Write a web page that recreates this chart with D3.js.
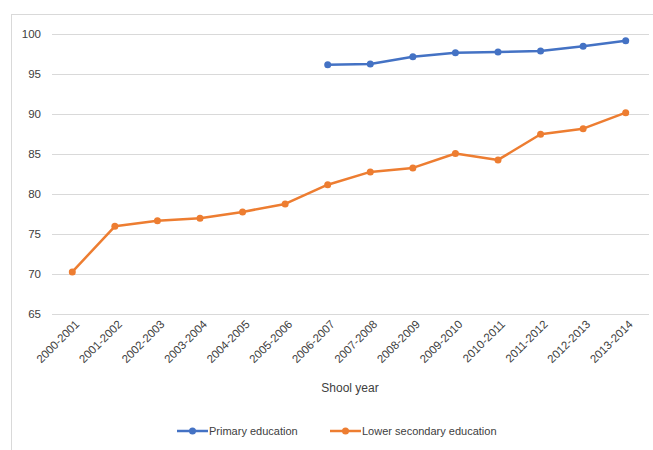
<!DOCTYPE html>
<html><head><meta charset="utf-8">
<script src="https://cdn.jsdelivr.net/npm/d3@7"></script>
<style>
body{margin:0;background:#fff;}
text{font-family:"Liberation Sans",Arial,sans-serif;fill:#404040;}
</style></head>
<body><svg id="c" width="653" height="450"></svg>
<script>
const years = ["2000-2001","2001-2002","2002-2003","2003-2004","2004-2005","2005-2006","2006-2007","2007-2008","2008-2009","2009-2010","2010-2011","2011-2012","2012-2013","2013-2014"];
const primary = [null,null,null,null,null,null,96.1,96.2,97.1,97.6,97.7,97.8,98.4,99.1];
const lowerSecondary = [70.2,75.9,76.6,76.9,77.7,78.7,81.1,82.7,83.2,85.0,84.2,87.4,88.1,90.1];
const yTicks = [65,70,75,80,85,90,95,100];
const seriesNames = ["Primary education","Lower secondary education"];
const colors = ["#4472C4","#ED7D31"];

const svg = d3.select("#c");
svg.append("rect").attr("x",11.5).attr("y",14.5).attr("width",660).attr("height",460)
  .attr("fill","none").attr("stroke","#d9d9d9").attr("stroke-width",1);

const x = d3.scalePoint().domain(years).range([51,647]).padding(0.5);
const y = d3.scaleLinear().domain([65,100]).range([313.5,33.5]);

const g = svg.append("g");
g.selectAll("line.grid").data(yTicks).enter().append("line")
  .attr("x1",52).attr("x2",649)
  .attr("y1",d=>Math.round(y(d))+0.5).attr("y2",d=>Math.round(y(d))+0.5)
  .attr("stroke","#d9d9d9").attr("stroke-width",1);
g.selectAll("text.yt").data(yTicks).enter().append("text")
  .attr("x",41).attr("y",d=>y(d)).attr("dy","0.35em")
  .attr("text-anchor","end").attr("font-size",11.5).text(d=>d);

g.selectAll("text.xt").data(years).enter().append("text")
  .attr("transform",d=>`translate(${x(d)+5},${322}) rotate(-45)`)
  .attr("text-anchor","end").attr("font-size",11.5).attr("dy","0.35em").text(d=>d);

svg.append("text").attr("x",350).attr("y",392).attr("text-anchor","middle")
  .attr("font-size",12).text("Shool year");

const data = [primary, lowerSecondary];
data.forEach((vals,i)=>{
  const pts = years.map((yr,j)=>({yr,v:vals[j]}));
  const line = d3.line().defined(d=>d.v!==null).x(d=>x(d.yr)).y(d=>y(d.v));
  svg.append("path").datum(pts).attr("d",line).attr("fill","none")
    .attr("stroke",colors[i]).attr("stroke-width",2.5).attr("stroke-linejoin","round");
  svg.selectAll(null).data(pts.filter(d=>d.v!==null)).enter().append("circle")
    .attr("cx",d=>x(d.yr)).attr("cy",d=>y(d.v)).attr("r",3.5).attr("fill",colors[i]);
});

const leg = [{x0:177,tx:209},{x0:330,tx:362}];
leg.forEach((l,i)=>{
  svg.append("line").attr("x1",l.x0).attr("x2",l.x0+31).attr("y1",431).attr("y2",431)
    .attr("stroke",colors[i]).attr("stroke-width",2.5);
  svg.append("circle").attr("cx",l.x0+15.5).attr("cy",431).attr("r",3.5).attr("fill",colors[i]);
  svg.append("text").attr("x",l.tx).attr("y",431).attr("dy","0.35em").attr("font-size",11)
    .text(seriesNames[i]);
});
</script></body></html>
